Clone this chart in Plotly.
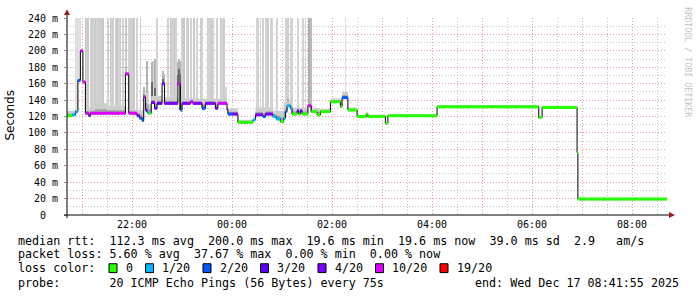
import bisect
from datetime import datetime
import plotly.graph_objects as go

# ---------------- data ----------------
START = "20:41:55"
END = "08:41:55"

med_times = ["20:41:55", "20:48", "20:52", "20:55", "20:58", "21:01", "21:04", "21:08", "21:10", "21:52",
             "21:56", "22:06", "22:09", "22:12", "22:14", "22:16", "22:18", "22:20", "22:23", "22:27",
             "22:30", "22:36", "22:39", "22:55", "22:58", "23:00", "23:10", "23:13", "23:24", "23:28",
             "23:40", "23:43", "23:54", "23:55", "00:00", "00:07", "00:25", "00:28", "00:37", "00:40",
             "00:49", "00:53", "00:58", "01:02", "01:04", "01:06", "01:10", "01:12", "01:18", "01:20",
             "01:22", "01:24", "01:31", "01:35", "01:42", "01:46", "01:58", "02:10", "02:12", "02:19",
             "02:30", "02:41", "02:43", "03:04", "03:07", "04:06", "06:08", "06:12", "06:54", "06:55"]
med_vals = [121, 122, 126, 164, 200, 162, 124, 121, 124, 172,
            124, 121, 118, 115, 144, 128, 125, 124, 137, 130,
            136, 160, 136, 160, 128, 136, 138, 136, 130, 136,
            130, 136, 128, 123, 123, 113, 116, 122, 120, 123,
            120, 117, 114, 118, 126, 133, 130, 123, 127, 123,
            127, 123, 133, 126, 122, 126, 138, 132, 143, 128,
            120, 123, 120, 112, 121, 132, 119, 131, 76, 19.6]
med_loss = [0, 1, 1, 2, 5, 5, 5, 4, 5, 5,
            5, 4, 2, 2, 5, 4, 1, 0, 4, 4,
            3, 4, 4, 5, 2, 4, 5, 4, 2, 4,
            4, 5, 4, 2, 4, 0, 1, 4, 2, 4,
            1, 1, 0, 1, 2, 1, 1, 0, 3, 0,
            3, 0, 5, 0, 0, 0, 0, 0, 2, 0,
            0, 0, 0, 0, 0, 0, 0, 0, 0, 0]

band_times = ["20:41:55", "20:58", "21:04", "21:15", "21:30", "21:52", "22:04", "22:14", "22:20", "22:23",
              "22:39", "22:55", "23:00", "23:54", "00:07", "00:28", "00:49", "01:02", "01:12", "01:35",
              "01:46", "01:58", "02:12", "02:19", "02:30", "03:04", "03:07", "04:06", "06:08", "06:12",
              "06:54", "06:55"]
band_tops = [127, 132, 131, 136, 133, 130, 128, 150, 135, 145,
             143, 145, 142, 130, 116, 131, 127, 138, 131, 130,
             129, 142, 150, 131, 122, 114, 123, 134, 121, 133,
             78, 21]

plume_times = ["21:53", "22:14", "22:18", "22:24", "22:28", "22:37", "22:38", "22:55", "22:56", "22:57",
               "22:58", "01:07", "02:14", "02:16"]
plume_tops = [180, 156, 188, 186, 190, 176, 172, 186, 190, 188, 180, 142, 150, 148]
plume_cores = [170, 148, 150, 162, 155, 166, 160, 170, 178, 172, 160, 136, 145, 144]

spike_times = ["20:52", "20:53", "20:54", "20:55", "20:56", "20:58",
               "21:04", "21:06", "21:07", "21:10", "21:12", "21:14", "21:17", "21:18", "21:20", "21:23", "21:25",
               "21:31", "21:34", "21:36", "21:37", "21:40", "21:42", "21:44", "21:46", "21:49", "21:53", "21:56", "21:59",
               "22:01", "22:02", "22:06", "22:10",
               "22:25", "22:30",
               "22:43", "22:46", "22:48", "22:50", "22:53",
               "23:00", "23:02", "23:06", "23:07", "23:11", "23:14", "23:18", "23:22", "23:24",
               "23:31", "23:32", "23:34", "23:35", "23:36", "23:37",
               "23:42", "23:46", "23:48", "23:50", "23:53",
               "00:30", "00:31", "00:34", "00:37", "00:41", "00:43", "00:46", "00:48", "00:54",
               "01:05", "01:07", "01:10", "01:12", "01:19", "01:25", "01:28",
               "01:32", "01:34", "01:35",
               "02:16"]
spike_tops = [300, 300, 300, 300, 300, 300,
              300, 300, 300, 300, 300, 300, 300, 300, 300, 300, 300,
              300, 300, 300, 300, 300, 300, 300, 300, 300, 300, 300, 300,
              300, 300, 300, 300,
              188, 300,
              300, 300, 300, 300, 300,
              300, 300, 300, 300, 300, 300, 300, 300, 300,
              300, 300, 300, 300, 300, 300,
              300, 300, 300, 300, 156,
              300, 300, 300, 300, 300, 300, 300, 300, 300,
              300, 300, 300, 300, 300, 300, 300,
              300, 300, 300,
              300]
spike_gray = [225, 220, 225, 220, 225, 220,
              195, 210, 200, 212, 205, 210, 200, 212, 205, 210, 200,
              210, 200, 212, 205, 210, 200, 212, 205, 210, 200, 212, 205,
              210, 200, 212, 210,
              212, 212,
              210, 200, 212, 205, 210,
              210, 200, 212, 205, 210, 200, 212, 205, 210,
              205, 212, 200, 210, 205, 212,
              210, 200, 212, 205, 215,
              212, 210, 215, 210, 212, 205, 215, 210, 212,
              210, 205, 212, 210, 215, 212, 210,
              175, 165, 185,
              220]

loss_labels = ["0", "1/20", "2/20", "3/20", "4/20", "10/20", "19/20"]
loss_colors = ["#26ff00", "#00b8ff", "#0059ff", "#5e00ff", "#7e00ff", "#dd00ff", "#ff0000"]

y_tick_vals = [0, 20, 40, 60, 80, 100, 120, 140, 160, 180, 200, 220, 240]
y_tick_labels = ["0\u00a0\u00a0", "20 m", "40 m", "60 m", "80 m", "100 m", "120 m", "140 m",
                 "160 m", "180 m", "200 m", "220 m", "240 m"]
x_hours = ["21:00", "22:00", "23:00", "00:00", "01:00", "02:00", "03:00", "04:00",
           "05:00", "06:00", "07:00", "08:00"]
x_tick_labels = ["22:00", "00:00", "02:00", "04:00", "06:00", "08:00"]

legend_lines = [
    "median rtt:  112.3 ms avg  200.0 ms max  19.6 ms min  19.6 ms now  39.0 ms sd  2.9   am/s",
    "packet loss: 5.60 % avg  37.67 % max  0.00 % min  0.00 % now",
]
probe_text = "probe:       20 ICMP Echo Pings (56 Bytes) every 75s"
end_text = "end: Wed Dec 17 08:41:55 2025"


# ---------------- helpers ----------------
def T(s):
    p = [int(v) for v in s.split(":")]
    while len(p) < 3:
        p.append(0)
    day = 16 if p[0] >= 12 else 17
    return datetime(2025, 12, day, p[0], p[1], p[2])


t0, t1 = T(START), T(END)
medT = [T(s) for s in med_times]
bandT = [T(s) for s in band_times]


def step(times, vals, t):
    i = bisect.bisect_right(times, t) - 1
    return vals[max(i, 0)]


# plot box in pixels
L, R, TOP, BOT = 67, 667, 15, 215


def PX(px):
    return (px - L) / (R - L)


def PY(py):
    return (BOT - py) / (BOT - TOP)


MONO = "DejaVu Sans Mono"
fig = go.Figure()
BW = 55000

# spikes (light smoke reaching far up)
sT = [T(s) for s in spike_times]
sbase = [step(medT, med_vals, t) for t in sT]
fig.add_trace(go.Bar(
    x=sT, base=sbase, y=[tp - b for tp, b in zip(spike_tops, sbase)],
    width=[BW] * len(sT),
    marker=dict(color=[f"rgb({g},{g},{g})" for g in spike_gray], line=dict(width=0)),
    hoverinfo="skip"))

# smoke band around the median
grid = sorted(set(medT + bandT + [t1]))
lower = [step(medT, med_vals, t) - 1.5 for t in grid]
outer = [max(step(bandT, band_tops, t), step(medT, med_vals, t)) for t in grid]
inner = [m + 1.5 + (o - m - 1.5) * 0.4 for m, o in zip(lower, outer)]
for top, col in [(outer, "#cdcdcd"), (inner, "#a2a2a2")]:
    fig.add_trace(go.Scatter(x=grid, y=lower, mode="lines", line=dict(width=0, shape="hv"),
                             hoverinfo="skip"))
    fig.add_trace(go.Scatter(x=grid, y=top, mode="lines", line=dict(width=0, shape="hv"),
                             fill="tonexty", fillcolor=col, hoverinfo="skip"))

# darker plumes
pT = [T(s) for s in plume_times]
pbase = [step(medT, med_vals, t) for t in pT]
fig.add_trace(go.Bar(x=pT, base=pbase, y=[tp - b for tp, b in zip(plume_tops, pbase)],
                     width=[75000] * len(pT),
                     marker=dict(color="#b4b4b4", line=dict(width=0)), hoverinfo="skip"))
fig.add_trace(go.Bar(x=pT, base=pbase, y=[c - b for c, b in zip(plume_cores, pbase)],
                     width=[75000] * len(pT),
                     marker=dict(color="#6a6a6a", line=dict(width=0)), hoverinfo="skip"))

# median (black step line)
fig.add_trace(go.Scatter(x=medT + [t1], y=med_vals + [med_vals[-1]], mode="lines",
                         line=dict(color="black", width=1, shape="hv"), hoverinfo="skip"))
# loss-coloured median segments
segs_end = medT[1:] + [t1]
for k, col in enumerate(loss_colors):
    xs, ys = [], []
    for a, b, v, l in zip(medT, segs_end, med_vals, med_loss):
        if l == k:
            xs += [a, b, None]
            ys += [v, v, None]
    if xs:
        fig.add_trace(go.Scatter(x=xs, y=ys, mode="lines", line=dict(color=col, width=3),
                                 hoverinfo="skip"))

# axes
MAJ = "rgba(225,90,90,0.6)"
MIN = "rgba(140,140,140,0.5)"
DASH = "1px,2px"
hourT = [T(h) for h in x_hours]
halfT = [T(h[:3] + "30") for h in x_hours] + [T("20:30")]
halfT = [t for t in halfT if t0 <= t <= t1]
fig.update_xaxes(
    type="date", range=[t0, t1], tickmode="array", tickvals=hourT,
    ticktext=[h if h in x_tick_labels else "" for h in x_hours],
    showgrid=True, gridcolor=MAJ, griddash=DASH, gridwidth=1,
    minor=dict(tickmode="array", tickvals=halfT, showgrid=True, gridcolor=MIN,
               griddash=DASH, gridwidth=1),
    showline=False, zeroline=False, ticks="",
    tickfont=dict(family=MONO, size=10, color="black"), ticklabelstandoff=2)
fig.update_yaxes(
    range=[0, 240], tickmode="array", tickvals=y_tick_vals, ticktext=y_tick_labels,
    showgrid=True, gridcolor=MAJ, griddash=DASH, gridwidth=1,
    minor=dict(tickmode="array", tickvals=[v + 10 for v in y_tick_vals[:-1]], showgrid=True,
               gridcolor=MIN, griddash=DASH, gridwidth=1),
    showline=False, zeroline=False, ticks="outside", ticklen=2, tickcolor="#888",
    tickfont=dict(family=MONO, size=10, color="black"), ticklabelstandoff=4)

shapes = [
    dict(type="line", xref="paper", yref="paper", x0=PX(67), x1=PX(67), y0=PY(218), y1=PY(9),
         line=dict(color="black", width=1)),
    dict(type="line", xref="paper", yref="paper", x0=PX(64), x1=PX(671), y0=PY(215), y1=PY(215),
         line=dict(color="black", width=1)),
    dict(type="path", xref="paper", yref="paper",
         path=f"M{PX(64)},{PY(12)} L{PX(70)},{PY(12)} L{PX(67)},{PY(6)} Z",
         fillcolor="#9b1c1c", line=dict(width=0)),
    dict(type="path", xref="paper", yref="paper",
         path=f"M{PX(669)},{PY(212)} L{PX(669)},{PY(218)} L{PX(675)},{PY(215)} Z",
         fillcolor="#9b1c1c", line=dict(width=0)),
]

annotations = [
    dict(text="Seconds", textangle=-90, x=PX(10), y=PY(114), xref="paper", yref="paper",
         xanchor="center", yanchor="middle",
         showarrow=False, font=dict(family="DejaVu Sans", size=12, color="black")),
    dict(text="RRDTOOL / TOBI OETIKER", textangle=90, x=PX(688), y=PY(60), xref="paper",
         yref="paper", xanchor="center", yanchor="middle",
         showarrow=False, font=dict(family=MONO, size=8.3, color="#c4c4c4")),
]
FS = 11.7
row_y = [241, 255, 269, 284]
for i, line in enumerate(legend_lines):
    annotations.append(dict(text=line, x=PX(16), y=PY(row_y[i]), xref="paper", yref="paper",
                            xanchor="left", yanchor="middle", showarrow=False,
                            font=dict(family=MONO, size=FS, color="black")))
annotations.append(dict(text="loss color:", x=PX(16), y=PY(row_y[2]), xref="paper", yref="paper",
                        xanchor="left", yanchor="middle", showarrow=False,
                        font=dict(family=MONO, size=FS, color="black")))
bx = 109
for lab, col in zip(loss_labels, loss_colors):
    shapes.append(dict(type="rect", xref="paper", yref="paper", x0=PX(bx), x1=PX(bx + 8),
                       y0=PY(row_y[2] + 4.5), y1=PY(row_y[2] - 4.5), fillcolor=col,
                       line=dict(color="black", width=1)))
    annotations.append(dict(text=lab, x=PX(bx + 14.5), y=PY(row_y[2]), xref="paper", yref="paper",
                            xanchor="left", yanchor="middle", showarrow=False,
                            font=dict(family=MONO, size=FS, color="black")))
    bx += 29.5 + 7.0 * len(lab)
annotations.append(dict(text=probe_text, x=PX(16), y=PY(row_y[3]), xref="paper", yref="paper",
                        xanchor="left", yanchor="middle", showarrow=False,
                        font=dict(family=MONO, size=FS, color="black")))
annotations.append(dict(text=end_text, x=PX(681), y=PY(row_y[3]), xref="paper", yref="paper",
                        xanchor="right", yanchor="middle", showarrow=False,
                        font=dict(family=MONO, size=FS, color="black")))

fig.update_layout(
    width=697, height=297, margin=dict(l=L, r=697 - R, t=TOP, b=297 - BOT),
    paper_bgcolor="white", plot_bgcolor="white", showlegend=False,
    barmode="overlay", bargap=0, shapes=shapes, annotations=annotations,
    font=dict(family=MONO),
)
fig.write_html("out.html")
